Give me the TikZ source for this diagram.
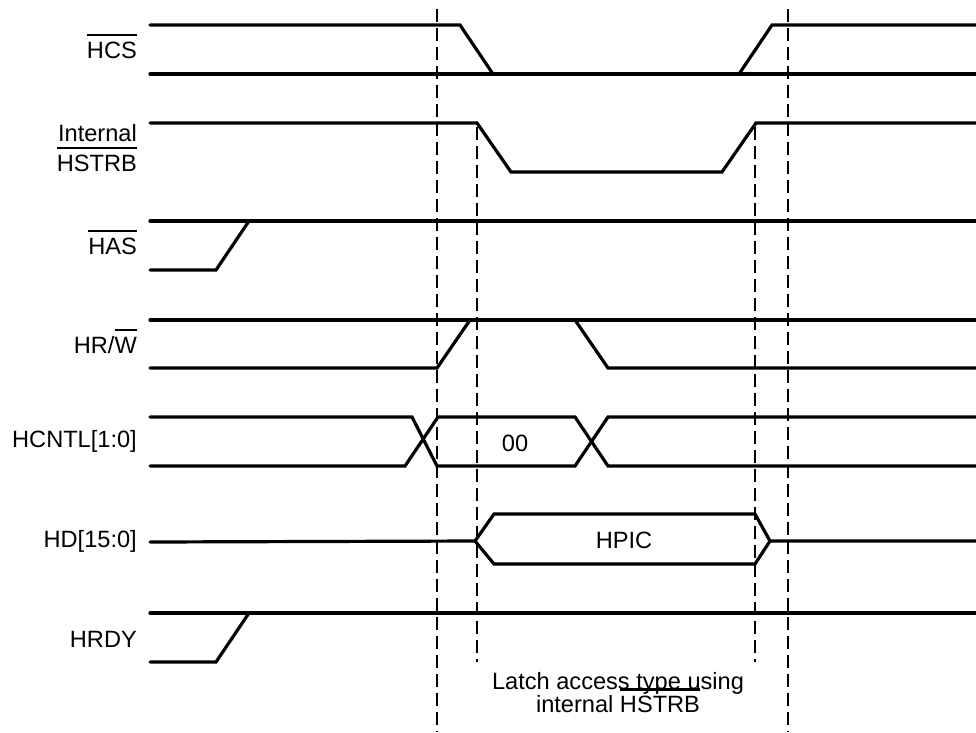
\documentclass[tikz,border=0pt]{standalone}
\usepackage{fontspec}
\setmainfont{Liberation Sans}
\usepackage{tikz}
\usetikzlibrary{positioning}
\newcommand{\ovl}[1]{\setbox0\hbox{#1}\rlap{\smash{\rule[0.93em]{\wd0}{2.6pt}}}\box0}
\tikzset{
	sig/.style={line width=3.2pt, line cap=round, line join=miter},
	guide/.style={line width=1.1pt, dash pattern=on 13pt off 6pt},
	lbl/.style={anchor=east, inner sep=0pt, align=right, font=\fontsize{23.6}{30}\selectfont},
	val/.style={inner sep=0pt, font=\fontsize{23.6}{24}\selectfont},
	note/.style={inner sep=0pt, align=center, font=\fontsize{23.6}{23}\selectfont},
}
\begin{document}
\begin{tikzpicture}[x=1pt, y=-1pt]
	\useasboundingbox (0,0) rectangle (976,732);
	
	\coordinate (ga) at (437,9);    \coordinate (gae) at (437,732);
	\coordinate (gb) at (477,127);  \coordinate (gbe) at (477,662);
	\coordinate (gc) at (755,127);  \coordinate (gce) at (755,662);
	\coordinate (gd) at (788,9);    \coordinate (gde) at (788,732);
	\draw[guide] (ga) -- (gae);
	\draw[guide] (gb) -- (gbe);
	\draw[guide] (gc) -- (gce);
	\draw[guide] (gd) -- (gde);
	
	\node[lbl] (hcs) at (137,50) {\ovl{HCS}};
	\node[lbl] (hstrb) at (137,148) {Internal\\\ovl{HSTRB}};
	\node[lbl] (has) at (137,246) {\ovl{HAS}};
	\node[lbl] (hrw) at (137,345) {HR/\ovl{W}};
	\node[lbl] (hcntl) at (137,441) {HCNTL[1:0]};
	\node[lbl] (hd) at (137,541) {HD[15:0]};
	\node[lbl] (hrdy) at (137,639) {HRDY};
	
	\draw[sig] (150,25) -- (460,25) -- (493,74);
	\draw[sig] (150,74) -- (976,74);
	\draw[sig] (739,74) -- (772,25) -- (976,25);
	
	\draw[sig] (150,123) -- (477,123) -- (511,172) -- (722,172) -- (756,123) -- (976,123);
	
	\draw[sig] (150,221) -- (976,221);
	\draw[sig] (150,270) -- (216,270) -- (249,221);
	
	\draw[sig] (150,320) -- (976,320);
	\draw[sig] (150,368) -- (437,368) -- (470,320);
	\draw[sig] (575,320) -- (608,368) -- (976,368);
	
	\draw[sig] (150,417) -- (412,417) -- (437,466) -- (575,466) -- (608,417) -- (976,417);
	\draw[sig] (150,466) -- (405,466) -- (438,417) -- (575,417) -- (608,466) -- (976,466);
	\node[val] (cntl) at (515,443) {00};
	
	\draw[sig] (150,542) -- (475,541) -- (494,514) -- (755,514) -- (770,541) -- (976,541);
	\draw[sig] (475,541) -- (494,564) -- (755,564) -- (770,541);
	\node[val] (hpic) at (624,540) {HPIC};
	
	\draw[sig] (150,613) -- (976,613);
	\draw[sig] (150,662) -- (216,662) -- (249,613);
	
	\node[note] (latch) at (618,693) {Latch access type using\\internal \ovl{HSTRB}};
	
\end{tikzpicture}
\end{document}
